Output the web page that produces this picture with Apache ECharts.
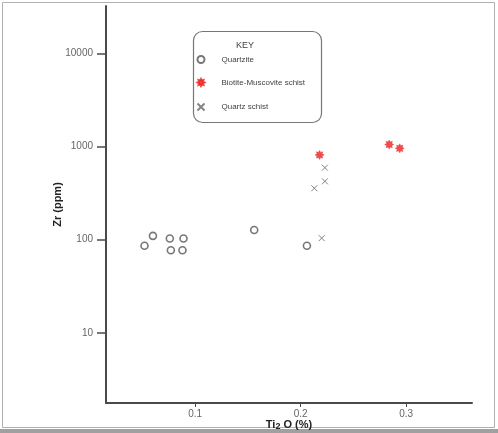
<!DOCTYPE html>
<html><head><meta charset="utf-8">
<script src="https://cdn.jsdelivr.net/npm/echarts@6/dist/echarts.min.js"></script>
<style>html,body{margin:0;padding:0;background:#fff}#c{width:498px;height:433px}</style>
</head><body><div id="c"></div>
<script>
// TiO2 (%) vs Zr (ppm)
const quartziteTi = [0.052, 0.060, 0.076, 0.077, 0.089, 0.088, 0.156, 0.206];
const quartziteZr = [86, 110, 103, 77, 103, 77, 127, 86];
const bioMusTi = [0.218, 0.284, 0.294];
const bioMusZr = [815, 1054, 959];
const qSchistTi = [0.223, 0.223, 0.213, 0.220];
const qSchistZr = [594, 424, 357, 104];
const seriesNames = ['Quartzite', 'Biotite-Muscovite schist', 'Quartz schist'];
const yTickLabels = [10, 100, 1000, 10000];
const xTickLabels = [0.1, 0.2, 0.3];

function pairs(xs, ys) { return xs.map((x, i) => [x, ys[i]]); }
function starPath(n, r1, r2) {
  let d = '';
  for (let i = 0; i < 2 * n; i++) {
    const r = i % 2 ? r2 : r1;
    const a = Math.PI * i / n - Math.PI / 2;
    d += (i ? 'L' : 'M') + (10 + r * Math.cos(a)).toFixed(2) + ',' + (10 + r * Math.sin(a)).toFixed(2);
  }
  return 'path://' + d + 'Z';
}
const chart = echarts.init(document.getElementById('c'));
const axisCol = '#4a4a4a';
chart.setOption({
  animation: false,
  backgroundColor: '#fff',
  grid: { left: 106, right: 26, top: 6, bottom: 30, containLabel: false, outerBoundsMode: 'none' },
  xAxis: {
    type: 'value', min: 0.0155, max: 0.3625,
    splitNumber: 3,
    axisLine: { lineStyle: { color: axisCol, width: 2 } },
    axisTick: { length: 4, lineStyle: { color: axisCol } },
    axisLabel: {
      color: '#666', fontSize: 10, fontFamily: 'Liberation Sans', margin: 6,
      showMinLabel: false, showMaxLabel: false,
      formatter: v => (xTickLabels.some(t => Math.abs(t - v) < 1e-6) ? String(Math.round(v * 10) / 10) : '')
    },
    splitLine: { show: false },
    name: '{a|Ti}{s|2}{a| O (%)}',
    nameLocation: 'middle', nameGap: 15, nameMoveOverlap: false,
    nameTextStyle: {
      rich: {
        a: { fontSize: 11, fontWeight: 'bold', color: '#222', fontFamily: 'Liberation Sans' },
        s: { fontSize: 9, fontWeight: 'bold', color: '#222', fontFamily: 'Liberation Sans', verticalAlign: 'bottom', padding: [4, 0, 0, 0] }
      }
    }
  },
  yAxis: {
    type: 'log', logBase: 10, min: 1.76, max: 32430,
    axisLine: { lineStyle: { color: axisCol, width: 2 } },
    axisTick: { length: 9, lineStyle: { color: axisCol, width: 1.5 } },
    axisLabel: {
      color: '#666', fontSize: 10, fontFamily: 'Liberation Sans', margin: 13,
      showMinLabel: false, showMaxLabel: false,
      formatter: v => { const r = Math.round(v); return yTickLabels.indexOf(r) >= 0 ? String(r) : ''; }
    },
    splitLine: { show: false },
    name: 'Zr (ppm)', nameLocation: 'middle', nameGap: 43, nameMoveOverlap: false,
    nameTextStyle: { fontSize: 11, fontWeight: 'bold', color: '#222', fontFamily: 'Liberation Sans' }
  },
  legend: {
    orient: 'vertical', left: 190, top: 50, itemGap: 14,
    itemWidth: 7, itemHeight: 7,
    data: seriesNames,
    textStyle: { fontSize: 8, color: '#444', fontFamily: 'Liberation Sans', padding: [0, 0, 0, 12] }
  },
  graphic: [
    { type: 'rect', shape: { x: 2.5, y: 2.5, width: 492, height: 425 }, style: { fill: null, stroke: '#b0b0b0', lineWidth: 1 }, silent: true },
    { type: 'rect', shape: { x: 0, y: 429, width: 498, height: 4 }, style: { fill: '#a0a0a0' }, silent: true },
    { type: 'rect', shape: { x: 193.5, y: 31.5, width: 128, height: 91, r: 9 }, style: { fill: null, stroke: '#777', lineWidth: 1.2 }, silent: true },
    { type: 'text', x: 245, y: 41, style: { text: 'KEY', fontSize: 9, fill: '#444', fontFamily: 'Liberation Sans', align: 'center' }, silent: true }
  ],
  series: [
    {
      name: seriesNames[0], type: 'scatter', symbol: 'circle', symbolSize: 7,
      itemStyle: { color: '#fff', borderColor: '#555', borderWidth: 1.6 },
      data: pairs(quartziteTi, quartziteZr)
    },
    {
      name: seriesNames[1], type: 'scatter', symbol: starPath(8, 10, 6), symbolSize: 9,
      itemStyle: { color: '#ee2020', borderColor: '#ee2020', borderWidth: 0.5 },
      data: pairs(bioMusTi, bioMusZr)
    },
    {
      name: seriesNames[2], type: 'scatter', symbol: 'path://M2,2L18,18M18,2L2,18', symbolSize: 6,
      itemStyle: { color: 'none', borderColor: '#666', borderWidth: 1 },
      data: pairs(qSchistTi, qSchistZr)
    }
  ]
});
</script></body></html>
